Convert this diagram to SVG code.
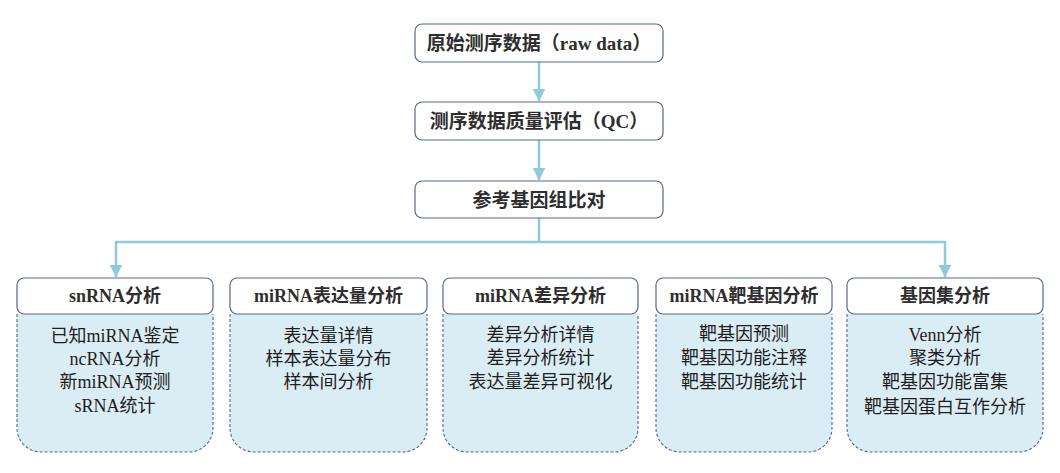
<svg xmlns="http://www.w3.org/2000/svg" width="1060" height="473" viewBox="0 0 1060 473">
<style>
.top{fill:#ffffff;stroke:#52688f;stroke-width:1.2}
.hdr{fill:#ffffff;stroke:#52688f;stroke-width:1.2}
.body{fill:#daecf4;stroke:#52688f;stroke-width:1.1;stroke-dasharray:3 2}
.t{font-family:"Liberation Serif","Noto Sans CJK SC",serif;font-size:18px;fill:#1e1e1e;text-anchor:middle;dominant-baseline:central}
.b{font-weight:bold;fill:#2e2e2e;font-size:18px}
.tb{font-size:19px}
.con{fill:none;stroke:#8ecadb;stroke-width:2.5}
</style>
<defs>
<marker id="ah" viewBox="0 0 13 13" refX="12.5" refY="6.5" markerWidth="13" markerHeight="13" markerUnits="userSpaceOnUse" orient="auto">
<path d="M0,0 L13,6.5 L0,13 Z" fill="#8ecadb"/>
</marker>
</defs>
<g id="connectors">
<path class="con" d="M539,62 V101" marker-end="url(#ah)"/>
<path class="con" d="M539,140 V180" marker-end="url(#ah)"/>
<path class="con" d="M539,218 V242"/>
<path class="con" d="M116,242 H945"/>
<path class="con" d="M116,241 V277" marker-end="url(#ah)"/>
<path class="con" d="M945,241 V277" marker-end="url(#ah)"/>
</g>
<g id="n_raw">
<rect class="top" x="415" y="24" width="248" height="38" rx="7"/>
<text class="t b tb" x="539" y="43">原始测序数据（raw data）</text>
</g>
<g id="n_qc">
<rect class="top" x="415" y="102" width="248" height="38" rx="7"/>
<text class="t b tb" x="539" y="121">测序数据质量评估（QC）</text>
</g>
<g id="n_ref">
<rect class="top" x="415" y="181" width="248" height="37" rx="7"/>
<text class="t b tb" x="539" y="200">参考基因组比对</text>
</g>
<g id="n_snrna">
<path class="body" d="M17,314 V428 A24,24 0 0 0 41,452 H189 A24,24 0 0 0 213,428 V314"/>
<rect class="hdr" x="17" y="278" width="196" height="36" rx="7"/>
<text class="t b" x="115" y="296">snRNA分析</text>
<text class="t" x="115" y="336">已知miRNA鉴定</text>
<text class="t" x="115" y="359">ncRNA分析</text>
<text class="t" x="115" y="382">新miRNA预测</text>
<text class="t" x="115" y="406">sRNA统计</text>
</g>
<g id="n_expr">
<path class="body" d="M230,314 V428 A24,24 0 0 0 254,452 H403 A24,24 0 0 0 427,428 V314"/>
<rect class="hdr" x="230" y="278" width="197" height="36" rx="7"/>
<text class="t b" x="328.5" y="296">miRNA表达量分析</text>
<text class="t" x="328.5" y="336">表达量详情</text>
<text class="t" x="328.5" y="359">样本表达量分布</text>
<text class="t" x="328.5" y="382">样本间分析</text>
</g>
<g id="n_diff">
<path class="body" d="M443,314 V428 A24,24 0 0 0 467,452 H614 A24,24 0 0 0 638,428 V314"/>
<rect class="hdr" x="443" y="278" width="195" height="36" rx="7"/>
<text class="t b" x="540.5" y="296">miRNA差异分析</text>
<text class="t" x="540.5" y="335">差异分析详情</text>
<text class="t" x="540.5" y="358">差异分析统计</text>
<text class="t" x="540.5" y="382">表达量差异可视化</text>
</g>
<g id="n_target">
<path class="body" d="M656,314 V428 A24,24 0 0 0 680,452 H808 A24,24 0 0 0 832,428 V314"/>
<rect class="hdr" x="656" y="278" width="176" height="36" rx="7"/>
<text class="t b" x="744" y="296">miRNA靶基因分析</text>
<text class="t" x="744" y="334">靶基因预测</text>
<text class="t" x="744" y="358">靶基因功能注释</text>
<text class="t" x="744" y="382">靶基因功能统计</text>
</g>
<g id="n_geneset">
<path class="body" d="M847,314 V428 A24,24 0 0 0 871,452 H1019 A24,24 0 0 0 1043,428 V314"/>
<rect class="hdr" x="847" y="278" width="196" height="36" rx="7"/>
<text class="t b" x="945" y="296">基因集分析</text>
<text class="t" x="945" y="335">Venn分析</text>
<text class="t" x="945" y="358">聚类分析</text>
<text class="t" x="945" y="382">靶基因功能富集</text>
<text class="t" x="945" y="407">靶基因蛋白互作分析</text>
</g>
</svg>
